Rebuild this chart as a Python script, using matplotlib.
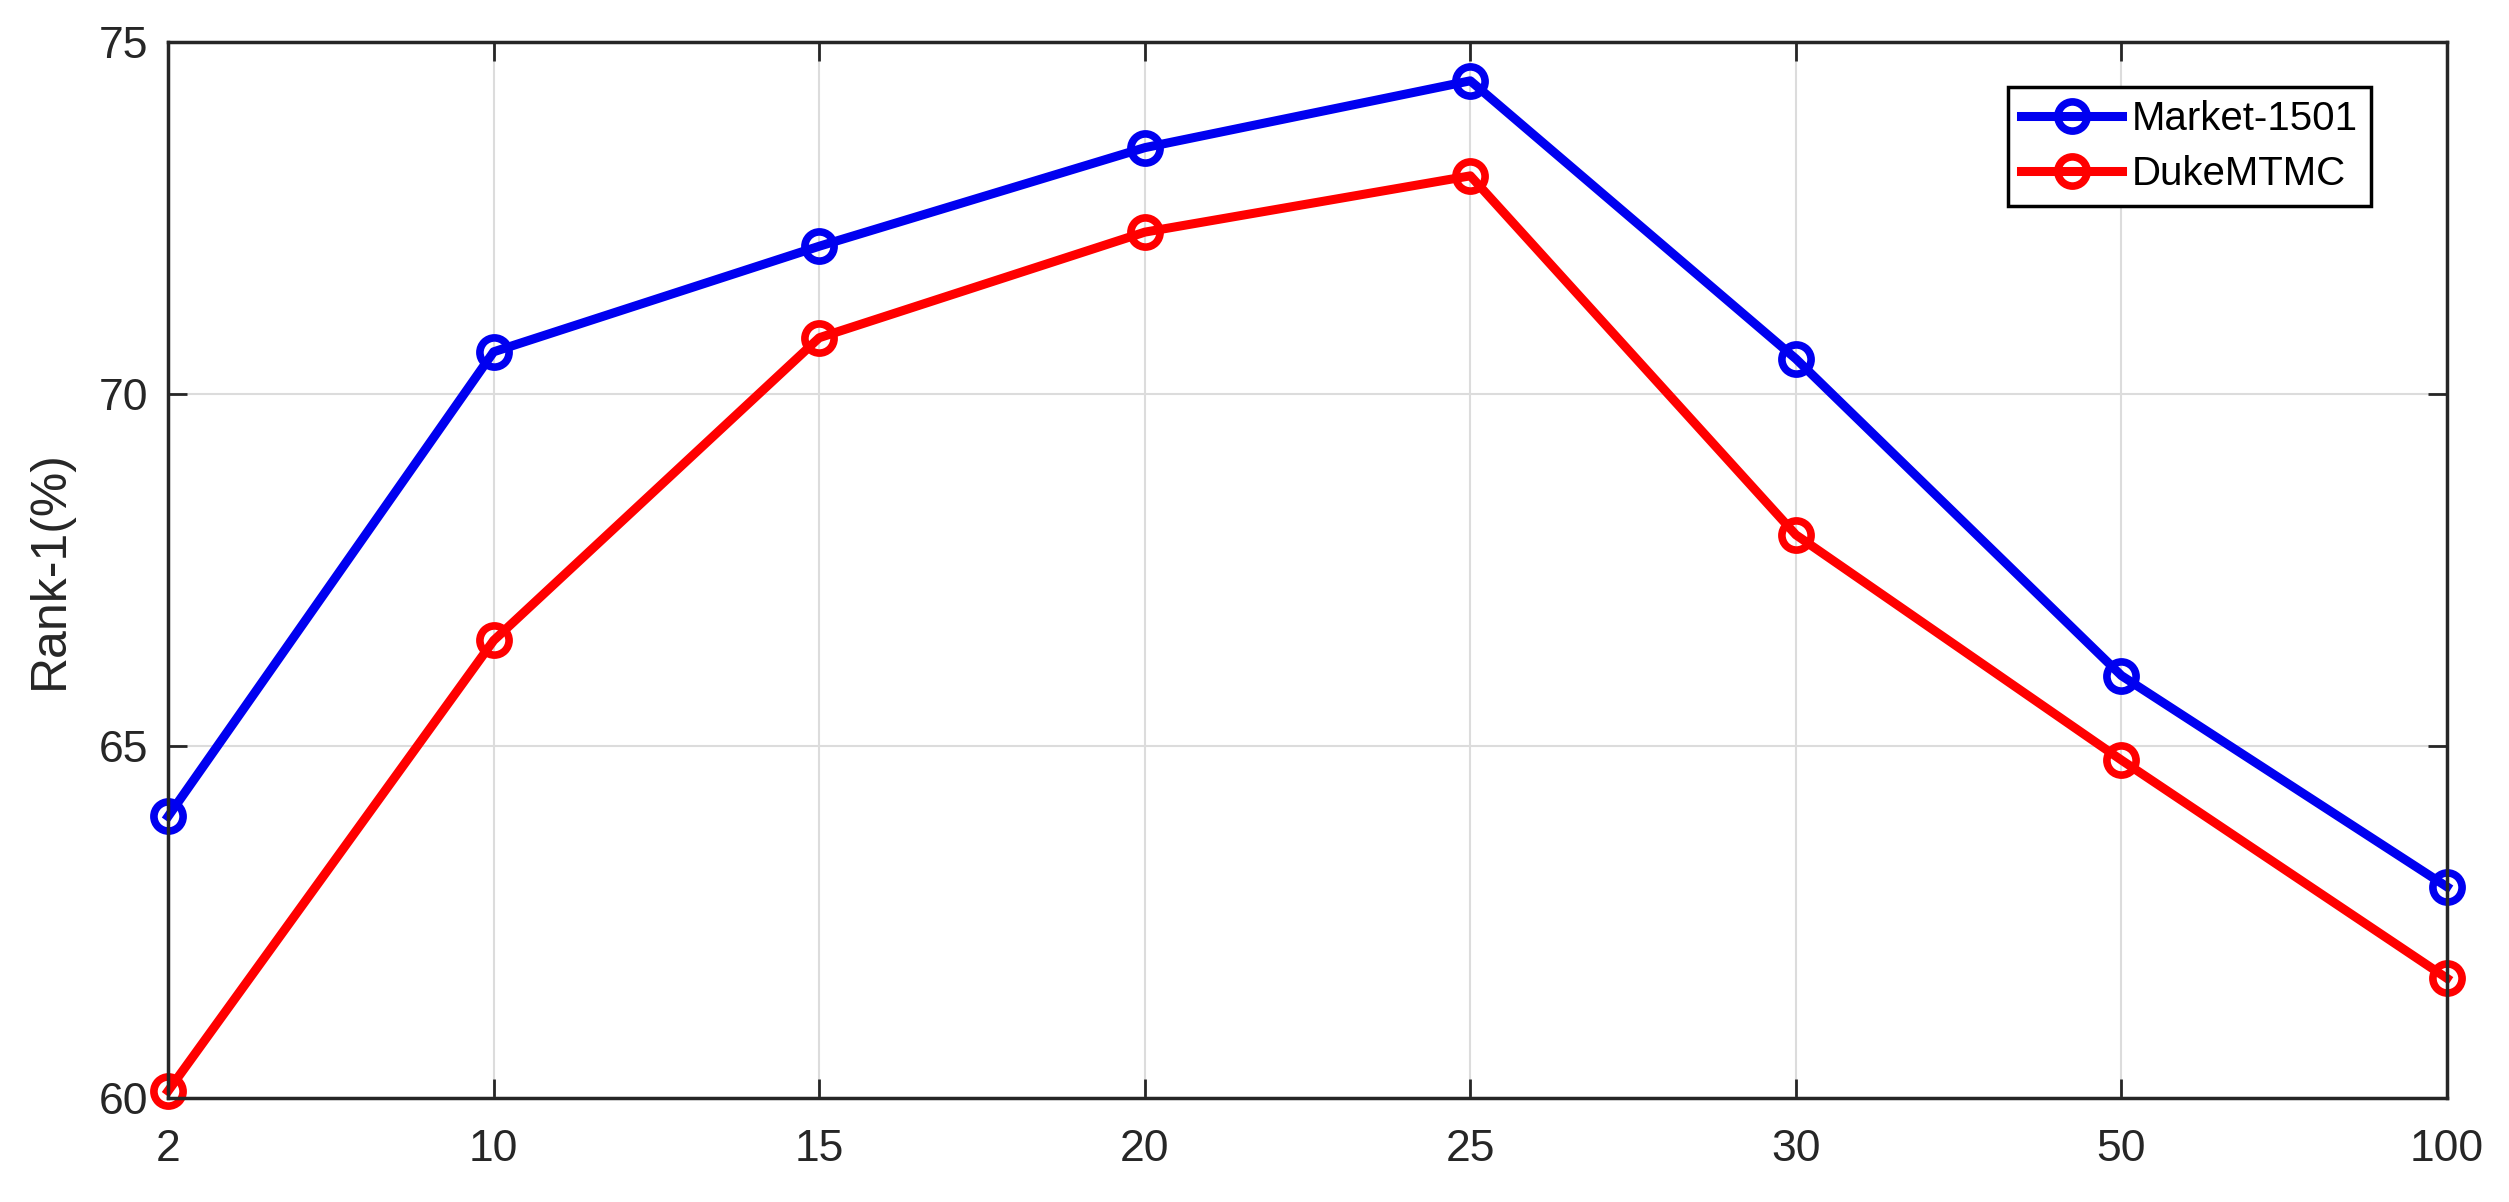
import matplotlib
matplotlib.use("Agg")
import matplotlib.pyplot as plt

# data
categories = ["2", "10", "15", "20", "25", "30", "50", "100"]
market = [64.0, 70.6, 72.1, 73.5, 74.45, 70.5, 66.0, 63.0]
duke = [60.1, 66.5, 70.8, 72.3, 73.1, 68.0, 64.8, 61.7]
yticks = [60, 65, 70, 75]

plt.rcParams["font.family"] = ["Liberation Sans", "DejaVu Sans"]

fig = plt.figure(figsize=(25.09, 12.02), dpi=100)
ax = fig.add_axes([0.067, 0.0865, 0.9083, 0.8785])

x = list(range(len(categories)))
style = dict(lw=6.5, marker="o", ms=21, mew=5.5, mfc="none")
ax.plot(x, market, color="#0000F0", label="Market-1501", **style)
ax.plot(x, duke, color="#FF0000", label="DukeMTMC", **style)

ax.set_xlim(0, len(categories) - 1)
ax.set_ylim(60, 75)
ax.set_xticks(x)
ax.set_xticklabels(categories)
ax.set_yticks(yticks)
ax.tick_params(labelsize=32, direction="in", length=14, width=2,
               top=True, right=True, colors="#262626")
ax.tick_params(axis="x", pad=22)
ax.tick_params(axis="y", pad=14)
ax.grid(True, color="#DCDCDC", lw=1.5)
ax.set_axisbelow(True)
for s in ax.spines.values():
    s.set_linewidth(2.5)
    s.set_color("#262626")
for c in ax.get_lines():
    c.set_clip_on(False)

ax.set_ylabel("Rank-1(%)", fontsize=36, color="#262626", labelpad=19)

leg = ax.legend(loc="upper right", bbox_to_anchor=(0.9667, 0.9574), fontsize=29,
                fancybox=False, edgecolor="black", framealpha=1,
                handlelength=2.5, handletextpad=0.25, borderpad=0.32,
                labelspacing=0.42, borderaxespad=0)
leg.get_frame().set_linewidth(2.5)

fig.savefig("out.png", dpi=100)
